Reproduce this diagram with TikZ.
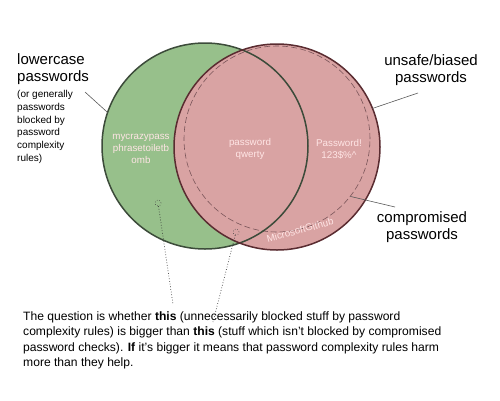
\documentclass[tikz,border=0pt]{standalone}
\usepackage{fontspec}
\setmainfont{Liberation Sans}
\begin{document}
\begin{tikzpicture}[x=1pt,y=-1pt,
  setA/.style={circle, minimum size=206pt, inner sep=0pt, outer sep=0pt},
  inlabel/.style={text=white!90!red, align=center, font=\fontsize{9.8}{11.8}\selectfont, inner sep=0pt},
  biglabel/.style={align=center, font=\fontsize{15}{17}\selectfont, inner sep=0pt},
  leader/.style={draw=black!65, line width=0.6pt},
  pointer/.style={draw=black!80, dotted, line width=0.7pt},
  dotmark/.style={circle, draw=black!75, dotted, line width=0.6pt, minimum size=6pt, inner sep=0pt}]
\useasboundingbox (0,0) rectangle (500,400);
\definecolor{gfill}{HTML}{97C08B}
\definecolor{pfill}{HTML}{D9A3A3}
\definecolor{gline}{HTML}{3C4B3A}
\definecolor{pline}{HTML}{5A2C31}
% circles
\node[setA, fill=gfill] (L) at (205,146) {};
\node[setA, fill=pfill] (R) at (277,147) {};
\node[circle, minimum size=186pt, inner sep=0pt, draw=pline!80, dashed, dash pattern=on 6pt off 3pt, line width=0.6pt] (D) at (277,139) {};
\node[setA, draw=gline, line width=1.5pt] (Lb) at (205,146) {};
\node[setA, draw=pline, line width=1.5pt] (Rb) at (277,147) {};
% inner labels
\node[inlabel] (t1) at (141,149) {mycrazypass\\phrasetoiletb\\omb};
\node[inlabel] (t2) at (250,149) {password\\qwerty};
\node[inlabel] (t3) at (339,149) {Password!\\123\$\%\textasciicircum};
\node[inlabel, rotate=15] (t4) at (300,230) {MicrosoftGithub};
% outer labels
\node[biglabel, align=left, anchor=north west] (lc) at (17,53) {lowercase\\passwords};
\node[align=left, anchor=north west, inner sep=0pt, font=\fontsize{10}{12.8}\selectfont] (lcs) at (17,90) {(or generally\\passwords\\blocked by\\password\\complexity\\rules)};
\node[biglabel] (ub) at (431,70) {unsafe/biased\\passwords};
\node[biglabel] (cp) at (422,227) {compromised\\passwords};
\coordinate (lcA) at (85,92);
\coordinate (ubA) at (418,93);
\coordinate (cpA) at (395,207);
\draw[leader] (lcA) -- (L.161);
\draw[leader] (ubA) -- (R.22);
\draw[leader] (cpA) -- (D.-38);
% dotted pointers
\node[dotmark] (s1) at (158,203) {};
\node[dotmark] (s2) at (236,232) {};
\coordinate (e1) at (173,304);
\coordinate (e2) at (213,322);
\draw[pointer] (s1) -- (e1);
\draw[pointer] (s2) -- (e2);
% paragraph
\node[align=left, anchor=north west, inner sep=0pt, font=\fontsize{12.1}{15.3}\selectfont] (para) at (23,311.5)
{The question is whether \textbf{this} (unnecessarily blocked stuff by password\\
complexity rules) is bigger than \textbf{this} (stuff which isn’t blocked by compromised\\
password checks). \textbf{If} it’s bigger it means that password complexity rules harm\\
more than they help.};
\end{tikzpicture}
\end{document}
